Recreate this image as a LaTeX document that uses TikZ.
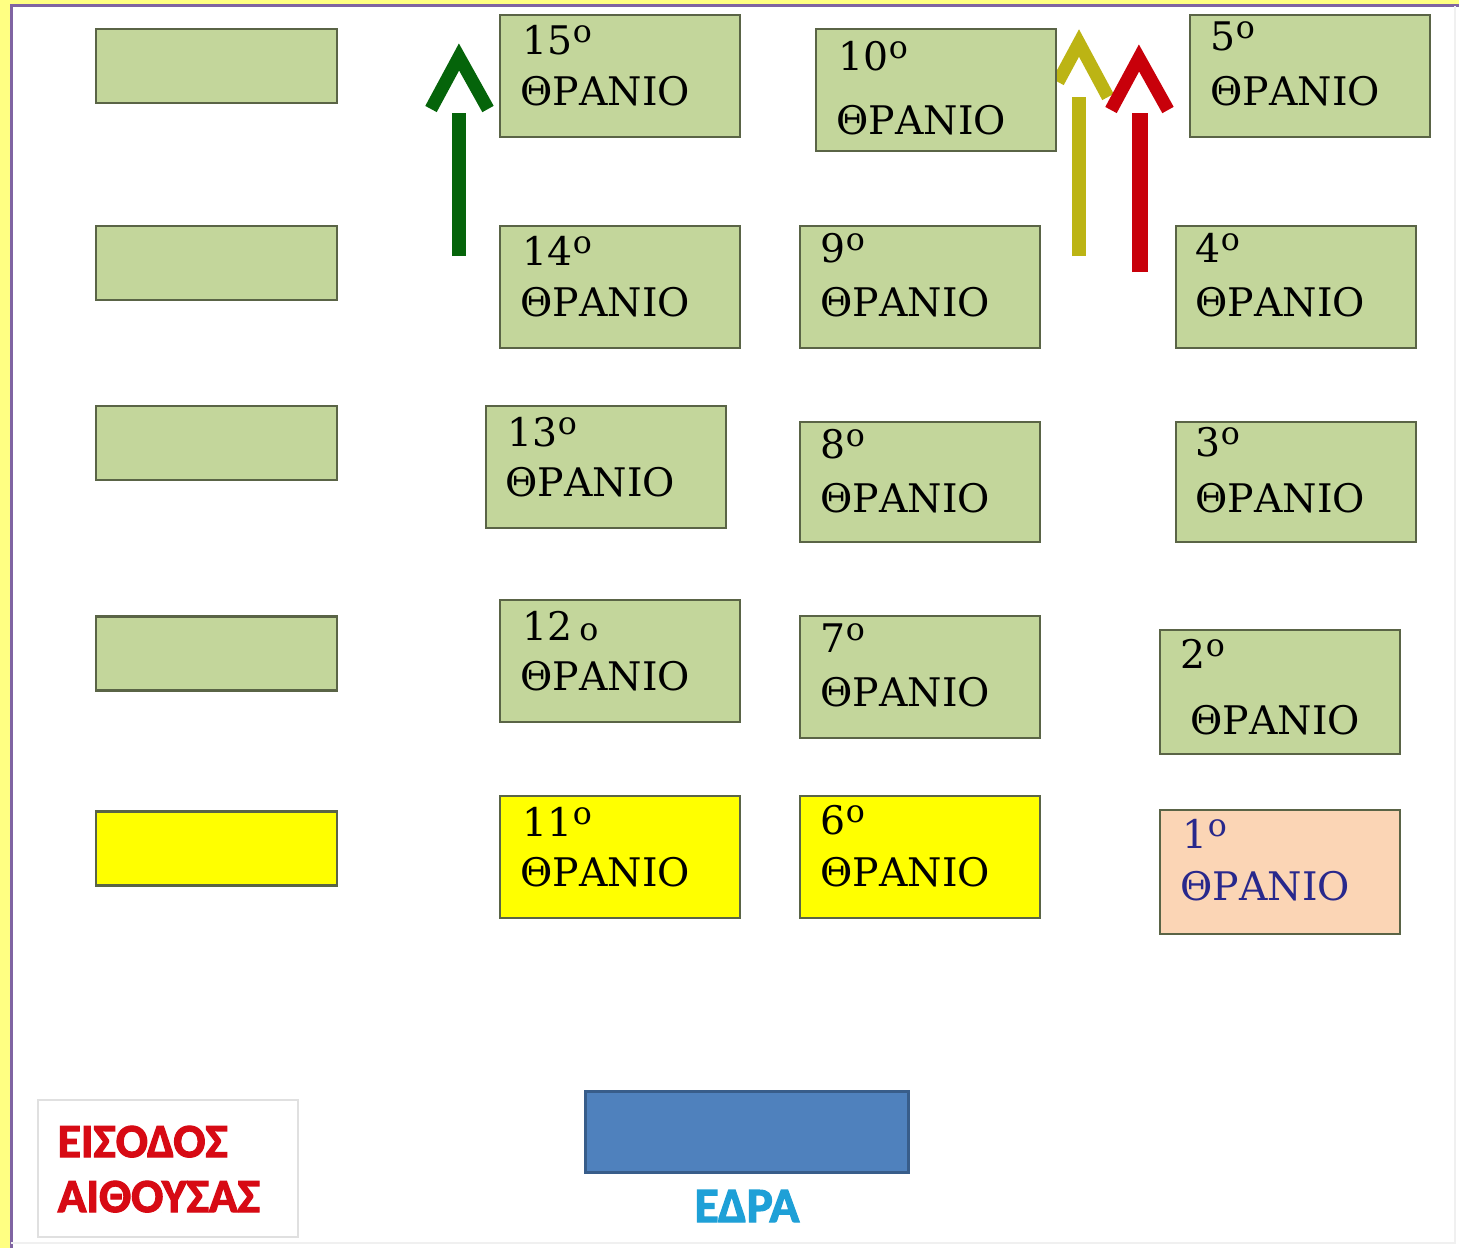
\documentclass[tikz,border=0pt]{standalone}
\usepackage{fontspec}
\setmainfont{DejaVu Serif}
\newfontfamily\signfont[BoldFeatures={FakeBold=2.5}]{Carlito}
\usepackage{tikz}

\definecolor{deskgreen}{RGB}{195,214,155}
\definecolor{deskline}{RGB}{90,100,70}
\definecolor{deskyellow}{RGB}{255,255,0}
\definecolor{deskpeach}{RGB}{251,213,181}
\definecolor{roomyellow}{RGB}{255,255,130}
\definecolor{roompurple}{RGB}{128,100,162}
\definecolor{arrowgreen}{RGB}{5,100,10}
\definecolor{arrowolive}{RGB}{188,180,20}
\definecolor{arrowred}{RGB}{200,0,10}
\definecolor{doorred}{RGB}{215,10,20}
\definecolor{edrablue}{RGB}{79,129,189}
\definecolor{edraline}{RGB}{56,93,138}
\definecolor{edratext}{RGB}{30,160,215}
\definecolor{firstblue}{RGB}{40,40,140}
\newcommand{\ordo}{\raisebox{0.55ex}{\fontsize{9}{9}\selectfont o}}

\begin{document}
\begin{tikzpicture}
				[x=0.1mm,y=-0.1mm,
				desk/.style={rectangle,draw=deskline,line width=0.6pt,fill=deskgreen,inner sep=0pt,minimum width=24mm,minimum height=12.2mm},
				bench/.style={desk,minimum width=24.1mm,minimum height=7.4mm},
				deskno/.style={anchor=base west,inner sep=0pt,font=\fontsize{11.2}{13}\selectfont},
				deskword/.style={anchor=base west,inner sep=0pt,font=\fontsize{11.2}{13}\selectfont},
				shaft/.style={line width=1.4mm},
				chevron/.style={line width=1.3mm,line join=miter}]

				\useasboundingbox (0,0) rectangle (1459,1248);
				% room
				\fill[roomyellow] (0,0) rectangle (1459,1248);
				\fill[white] (11,5) rectangle (1459,1248);
				\draw[roompurple,line width=0.3mm] (11.5,1248) -- (11.5,5.5) -- (1459,5.5);
				\draw[black!6,line width=0.4pt] (1455,6) -- (1455,1243) -- (11,1243);

				% arrows
				\coordinate (g1) at (459,256);  \coordinate (g2) at (459,113);
				\coordinate (ga) at (431,109);  \coordinate (gt) at (459,57);  \coordinate (gb) at (488,109);
				\draw[arrowgreen,shaft] (g1) -- (g2);
				\draw[arrowgreen,chevron] (ga) -- (gt) -- (gb);

				\coordinate (o1) at (1079,256); \coordinate (o2) at (1079,97);
				\coordinate (oa) at (1058,82);  \coordinate (ot) at (1079,43); \coordinate (ob) at (1108,97);
				\draw[arrowolive,shaft] (o1) -- (o2);
				\draw[arrowolive,chevron] (oa) -- (ot) -- (ob);

				\coordinate (r1) at (1140,272); \coordinate (r2) at (1140,113);
				\coordinate (ra) at (1111,110); \coordinate (rt) at (1139,58); \coordinate (rb) at (1168,110);
				\draw[arrowred,shaft,line width=1.6mm] (r1) -- (r2);
				\draw[arrowred,chevron] (ra) -- (rt) -- (rb);

				% left benches
				\node[bench] (b1) at (216.5,66) {};
				\node[bench] (b2) at (216.5,263) {};
				\node[bench] (b3) at (216.5,443) {};
				\node[bench] (b4) at (216.5,653.5) {};
				\node[bench,fill=deskyellow] (b5) at (216.5,848.5) {};

				% desks
				\node[desk] (d15) at (620,76) {};
				\node[desk] (d14) at (620,287) {};
				\node[desk] (d13) at (606,467) {};
				\node[desk] (d12) at (620,661) {};
				\node[desk,fill=deskyellow] (d11) at (620,857) {};
				\node[desk] (d10) at (936,90) {};
				\node[desk] (d9) at (920,287) {};
				\node[desk,minimum height=12mm] (d8) at (920,482) {};
				\node[desk] (d7) at (920,677) {};
				\node[desk,fill=deskyellow] (d6) at (920,857) {};
				\node[desk] (d5) at (1310,76) {};
				\node[desk] (d4) at (1296,287) {};
				\node[desk,minimum height=12mm] (d3) at (1296,482) {};
				\node[desk,minimum height=12.4mm] (d2) at (1280,692) {};
				\node[desk,fill=deskpeach,minimum height=12.4mm] (d1) at (1280,872) {};

				% labels
				\node[deskno] (n15) at (522,54) {15\ordo};
				\node[deskword] (w15) at (520,105) {ΘΡΑΝΙΟ};
				\node[deskno] (n14) at (522,265) {14\ordo};
				\node[deskword] (w14) at (520,316) {ΘΡΑΝΙΟ};
				\node[deskno] (n13) at (507,446) {13\ordo};
				\node[deskword] (w13) at (505,496) {ΘΡΑΝΙΟ};
				\node[deskno] (n12) at (522,640) {12\,{\fontsize{9}{9}\selectfont o}};
				\node[deskword] (w12) at (520,690) {ΘΡΑΝΙΟ};
				\node[deskno] (n11) at (522,836) {11\ordo};
				\node[deskword] (w11) at (520,886) {ΘΡΑΝΙΟ};
				\node[deskno] (n10) at (838,70) {10\ordo};
				\node[deskword] (w10) at (836,134) {ΘΡΑΝΙΟ};
				\node[deskno] (n9) at (820,262) {9\ordo};
				\node[deskword] (w9) at (820,316) {ΘΡΑΝΙΟ};
				\node[deskno] (n8) at (820,458) {8\ordo};
				\node[deskword] (w8) at (820,512) {ΘΡΑΝΙΟ};
				\node[deskno] (n7) at (820,652) {7\ordo};
				\node[deskword] (w7) at (820,706) {ΘΡΑΝΙΟ};
				\node[deskno] (n6) at (820,834) {6\ordo};
				\node[deskword] (w6) at (820,886) {ΘΡΑΝΙΟ};
				\node[deskno] (n5) at (1210,50) {5\ordo};
				\node[deskword] (w5) at (1210,105) {ΘΡΑΝΙΟ};
				\node[deskno] (n4) at (1195,262) {4\ordo};
				\node[deskword] (w4) at (1195,316) {ΘΡΑΝΙΟ};
				\node[deskno] (n3) at (1195,456) {3\ordo};
				\node[deskword] (w3) at (1195,512) {ΘΡΑΝΙΟ};
				\node[deskno] (n2) at (1180,668) {2\ordo};
				\node[deskword] (w2) at (1190,734) {ΘΡΑΝΙΟ};
				\node[deskno,text=firstblue] (n1) at (1182,848) {1\ordo};
				\node[deskword,text=firstblue] (w1) at (1180,900) {ΘΡΑΝΙΟ};

				% entrance and teacher
				\node[rectangle,draw=black!12,fill=white,line width=0.4pt,minimum width=26mm,minimum height=13.7mm,inner sep=0pt] (door) at (168,1168.5) {};
				\node[anchor=base west,inner sep=0pt,text=doorred,font=\signfont\bfseries\fontsize{13.5}{15}\selectfont] (door1) at (57,1157) {ΕΙΣΟΔΟΣ};
				\node[anchor=base west,inner sep=0pt,text=doorred,font=\signfont\bfseries\fontsize{13.5}{15}\selectfont] (door2) at (57,1212) {ΑΙΘΟΥΣΑΣ};
				\node[rectangle,draw=edraline,fill=edrablue,line width=0.3mm,minimum width=32.3mm,minimum height=8.1mm,inner sep=0pt] (edra) at (746.5,1131.5) {};
				\node[anchor=base,inner sep=0pt,text=edratext,font=\signfont\bfseries\fontsize{14}{16}\selectfont] (edralbl) at (747,1222) {ΕΔΡΑ};
			\end{tikzpicture}
\end{document}
